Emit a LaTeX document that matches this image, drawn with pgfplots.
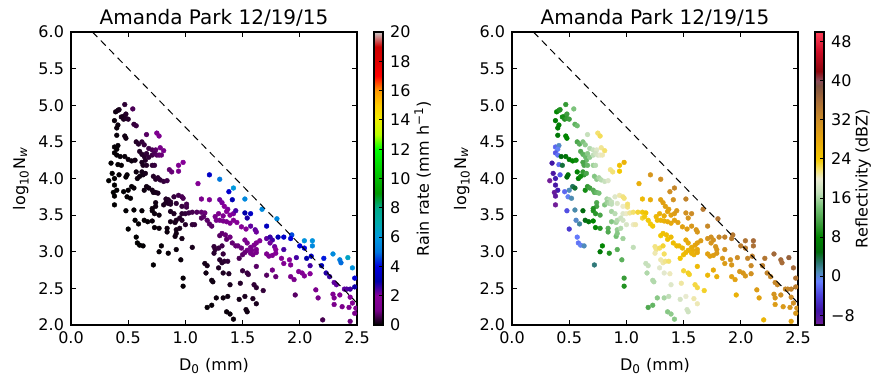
\documentclass[border=0pt]{standalone}
\usepackage{fontspec}
\setmainfont{DejaVu Sans}
\usepackage{pgfplots}
\usepackage{pgfplotstable}
\pgfplotsset{compat=1.18}

\pgfplotstableread{
x y R Z
0.47 5.01 0.38 10.5
0.54 4.95 0.63 14.4
0.39 4.91 0.13 8
0.41 4.93 0.17 9
0.42 4.94 0.19 9.5
0.46 4.85 0.24 10
0.48 4.88 0.31 11
0.38 4.79 0.09 7
0.44 4.84 0.19 9
0.46 4.81 0.22 9.5
0.48 4.82 0.27 10.5
0.50 4.81 0.32 11
0.41 4.73 0.10 7.5
0.40 4.69 0.09 7
0.55 4.74 0.43 12.9
0.57 4.72 0.48 13.9
0.40 4.59 0.07 6.5
0.47 4.58 0.14 8
0.48 4.55 0.14 8
0.66 4.60 0.72 17.5
0.75 4.62 1.4 21.8
0.77 4.58 1.4 22.3
0.57 4.50 0.29 11.7
0.59 4.47 0.32 12.5
0.62 4.50 0.43 14.4
0.64 4.46 0.45 15.1
0.38 4.43 0.04 -2.2
0.41 4.45 0.06 0.5
0.40 4.40 0.04 -0.8
0.68 4.41 0.54 16.5
0.71 4.39 0.62 17.7
0.74 4.39 0.76 19.1
0.78 4.42 1.05 21.1
0.81 4.38 1.1 21.9
0.38 4.35 0.03 -3.0
0.40 4.32 0.04 -1.6
0.43 4.30 0.05 5
0.47 4.30 0.07 6
0.50 4.26 0.09 7
0.53 4.24 0.11 8
0.56 4.25 0.15 8.6
0.60 4.37 0.27 12.1
0.62 4.33 0.29 12.7
0.64 4.30 0.31 13.5
0.65 4.25 0.30 13.5
0.66 4.34 0.40 14.9
0.68 4.29 0.41 15.3
0.71 4.32 0.50 17.0
0.73 4.34 0.63 18.2
0.75 4.32 0.69 18.8
0.77 4.32 0.78 19.7
0.79 4.32 0.87 20.5
0.35 4.21 0.02 -7.1
0.41 4.19 0.03 -2.1
0.44 4.18 0.04 4
0.62 4.22 0.22 11.6
0.63 4.18 0.22 11.8
0.66 4.18 0.28 13.3
0.71 4.18 0.38 15.6
0.73 4.18 0.44 16.6
0.98 4.22 1.9 26.5
0.94 4.18 1.4 24.8
0.36 4.07 0.01 -7.6
0.42 4.05 0.03 -2.8
0.49 4.05 0.05 6
0.48 4.02 0.04 5
0.57 4.09 0.11 7.6
0.62 4.09 0.17 10.3
0.63 4.05 0.16 10.5
0.65 4.07 0.20 11.7
0.72 4.03 0.29 14.6
0.74 3.99 0.30 15.1
0.76 4.01 0.35 16.2
0.78 3.98 0.38 16.7
0.81 3.96 0.43 17.7
0.84 3.97 0.52 19.0
0.86 4.12 0.81 21.3
0.88 4.09 0.85 21.7
0.94 4.10 1.2 24.0
0.33 3.97 0.01 -10
0.38 4.00 0.01 -6.5
0.38 3.91 0.01 -7.4
0.58 4.00 0.10 7.2
0.60 4.03 0.12 8.7
1.21 4.05 3.5 30.5
1.30 3.99 5.0 31.7
1.11 3.93 1.7 27.0
0.40 3.84 0.01 -6.4
0.37 3.81 0.01 -9.3
0.38 3.76 0.01 -8.9
0.46 3.82 0.02 -2.1
0.50 3.84 0.03 0.8
0.53 3.89 0.05 3.2
0.55 3.87 0.06 4.2
0.64 3.84 0.11 8.9
0.66 3.89 0.14 10.4
0.68 3.87 0.15 11.1
0.71 3.84 0.17 12.2
0.72 3.81 0.17 12.4
0.74 3.81 0.20 13.3
0.76 3.80 0.22 14.1
0.49 3.75 0.03 -0.7
0.52 3.73 0.03 1.0
0.83 3.72 0.28 16.1
0.85 3.71 0.30 16.8
0.90 3.75 0.44 19.1
0.94 3.77 0.55 20.7
0.97 3.75 0.62 21.5
0.98 3.73 0.62 21.6
1.14 3.72 1.2 25.6
1.21 3.71 1.6 27.1
1.38 3.82 3.7 31.6
1.42 3.87 6.0 32.8
1.41 3.71 3.2 31.1
1.52 3.72 5.5 33.1
0.74 3.67 0.14 11.9
0.74 3.62 0.13 11.4
0.38 3.64 0.01 -9.9
0.48 3.56 0.02 -3.3
0.55 3.57 0.03 1.2
0.62 3.56 0.05 5.0
0.71 3.59 0.10 9.7
0.71 3.56 0.09 9.4
0.73 3.52 0.10 10.0
0.77 3.50 0.12 11.5
0.81 3.64 0.20 14.5
0.83 3.67 0.25 15.6
0.85 3.66 0.27 16.3
0.87 3.68 0.32 17.3
0.87 3.65 0.30 17.0
0.92 3.66 0.39 18.9
0.97 3.62 0.46 20.2
1.01 3.61 0.54 21.4
1.01 3.65 0.59 21.8
0.87 3.55 0.23 16.0
0.90 3.52 0.26 16.8
0.97 3.52 0.36 19.2
1.00 3.52 0.42 20.2
1.03 3.53 0.49 21.1
1.06 3.54 0.58 21.9
1.10 3.54 0.68 22.9
1.14 3.54 0.80 23.8
1.17 3.53 0.89 24.4
1.30 3.71 2.2 28.9
1.32 3.67 2.1 28.9
1.34 3.62 2.0 28.8
1.37 3.58 2.1 29.0
1.29 3.52 1.4 26.8
1.33 3.49 1.5 27.3
1.36 3.55 1.9 28.5
1.39 3.50 1.9 28.6
1.42 3.52 2.1 29.3
1.44 3.56 2.5 30.1
1.52 3.53 3.0 31.2
1.57 3.52 3.5 32.0
1.67 3.58 5.5 34.2
1.54 3.46 2.8 30.8
0.56 3.43 0.02 0.4
0.59 3.38 0.03 1.6
0.64 3.43 0.04 4.8
0.67 3.41 0.05 6.1
0.71 3.42 0.07 8.0
0.73 3.33 0.06 8.1
0.77 3.32 0.08 9.7
0.84 3.32 0.12 12.5
0.87 3.41 0.17 14.6
0.91 3.40 0.20 15.9
0.92 3.43 0.23 16.6
0.95 3.46 0.29 17.9
0.97 3.43 0.30 18.3
1.00 3.37 0.30 18.7
1.06 3.37 0.39 20.2
1.08 3.37 0.43 20.7
1.14 3.46 0.66 23.0
1.16 3.48 0.76 23.7
1.19 3.43 0.76 23.8
1.21 3.38 0.74 23.8
1.23 3.35 0.74 23.9
1.26 3.48 1.1 25.8
1.27 3.43 1.05 25.5
1.30 3.43 1.15 26.1
1.33 3.42 1.26 26.6
1.36 3.41 1.35 27.1
1.39 3.39 1.45 27.5
1.42 3.43 1.7 28.4
1.45 3.40 1.8 28.7
1.49 3.34 1.8 28.8
1.53 3.31 1.9 29.2
1.57 3.35 2.3 30.3
1.61 3.30 2.3 30.4
1.62 3.27 2.2 30.3
1.80 3.45 5.5 34.8
1.71 3.35 3.4 32.5
0.50 3.31 0.01 -4.5
0.84 3.27 0.10 12.0
0.92 3.30 0.17 15.3
0.95 3.32 0.21 16.5
0.57 3.20 0.01 -1.3
0.58 3.12 0.01 -1.6
0.60 3.09 0.01 -0.7
0.63 3.08 0.02 0.8
0.91 3.21 0.13 14.0
0.92 3.25 0.15 14.8
0.97 3.18 0.17 15.8
1.30 3.22 0.71 24.0
1.32 3.25 0.81 24.7
1.35 3.23 0.87 25.1
1.36 3.17 0.79 24.7
1.39 3.20 0.93 25.6
1.41 3.12 0.83 25.2
1.44 3.08 0.83 25.3
1.46 3.08 0.89 25.7
1.52 3.16 1.3 27.5
1.54 3.12 1.26 27.4
1.57 3.06 1.2 27.4
1.60 3.09 1.4 28.1
1.62 3.12 1.5 28.8
1.65 3.15 1.8 29.5
1.71 3.18 2.3 30.8
1.74 3.20 2.6 31.4
1.76 3.16 2.5 31.3
1.81 3.20 3.2 32.5
1.86 3.20 3.6 33.2
1.93 3.23 4.6 34.4
1.92 3.18 4.0 33.8
1.74 3.12 2.2 30.6
1.78 3.07 2.2 30.7
1.79 3.03 2.0 30.5
1.06 3.06 0.19 17.1
1.25 3.07 0.42 21.5
1.26 3.03 0.40 21.3
1.29 3.05 0.47 22.1
1.32 3.08 0.55 23.0
0.79 3.08 0.05 8.1
1.49 3.05 0.91 25.9
1.54 3.02 1.0 26.4
1.58 3.02 1.1 27.1
1.62 3.03 1.3 27.9
0.77 3.00 0.04 6.5
0.85 2.98 0.06 9.5
0.92 3.03 0.09 12.6
0.96 2.89 0.08 12.6
1.25 2.98 0.34 20.6
1.33 2.97 0.45 22.1
1.30 2.89 0.33 20.7
1.32 2.85 0.32 20.7
1.34 2.87 0.36 21.3
1.37 2.87 0.41 21.9
1.47 2.91 0.62 24.1
1.50 2.96 0.76 25.2
1.52 2.99 0.87 25.8
1.57 2.98 1.0 26.6
1.59 2.96 1.0 26.7
1.62 2.99 1.15 27.5
1.71 2.97 1.4 28.7
1.73 2.94 1.4 28.7
1.76 2.95 1.5 29.2
1.79 2.98 1.8 30.0
1.86 3.03 2.5 31.5
1.84 2.91 1.7 30.0
1.86 2.84 1.6 29.6
1.91 2.89 2.0 30.8
1.92 2.82 1.7 30.2
1.97 2.92 2.5 31.9
2.00 3.08 3.9 33.9
2.04 3.15 5.8 35.1
2.11 3.15 5.8 36.0
2.11 3.08 5.5 35.3
2.04 3.05 4.0 34.1
2.06 2.91 3.0 32.9
2.10 2.94 3.5 33.7
2.09 2.81 2.5 32.3
2.21 2.91 4.2 34.7
2.29 2.97 5.6 36.3
2.35 2.89 5.2 36.2
2.36 2.85 4.9 35.9
2.42 2.92 6.5 37.2
0.72 2.82 0.02 2.5
1.17 2.84 0.18 17.5
1.19 2.81 0.18 17.6
1.29 2.78 0.25 19.4
1.33 2.71 0.25 19.5
1.38 2.70 0.28 20.4
1.50 2.74 0.46 23.0
1.54 2.71 0.49 23.3
1.55 2.69 0.48 23.3
1.62 2.80 0.74 25.6
1.71 2.68 0.71 25.8
1.76 2.75 0.98 27.2
1.79 2.66 0.87 26.8
1.92 2.66 1.2 28.6
1.95 2.62 1.17 28.6
1.99 2.73 1.7 30.2
2.02 2.71 1.7 30.4
2.04 2.67 1.7 30.3
2.09 2.70 1.95 31.2
2.19 2.81 3.2 33.5
2.23 2.71 2.75 33.0
2.26 2.66 2.6 32.8
2.30 2.58 2.3 32.5
2.32 2.55 2.3 32.4
2.46 2.78 5.8 36.2
1.18 2.71 0.14 16.4
0.98 2.64 0.05 10.7
0.98 2.53 0.04 9.6
1.23 2.61 0.13 16.5
1.24 2.59 0.13 16.5
1.39 2.55 0.21 19.1
1.48 2.57 0.30 20.9
1.60 2.55 0.40 22.7
1.62 2.51 0.37 22.7
1.68 2.47 0.42 23.2
2.14 2.48 1.3 29.6
2.29 2.42 1.6 30.8
2.30 2.37 1.45 30.4
2.39 2.49 2.3 32.6
2.41 2.49 2.4 32.8
2.44 2.49 2.5 33.1
2.48 2.64 3.8 35.0
2.48 2.52 2.9 33.8
2.35 2.41 1.7 31.4
2.44 2.38 1.95 32.0
1.19 2.24 0.05 11.9
1.23 2.27 0.06 13.1
1.27 2.37 0.09 14.9
1.33 2.37 0.11 16.1
1.37 2.39 0.13 17.1
1.36 2.18 0.08 14.8
1.39 2.15 0.08 15.1
1.42 2.08 0.08 14.9
1.47 2.35 0.17 18.5
1.52 2.39 0.22 19.8
1.53 2.21 0.15 18.2
1.54 2.18 0.14 18.0
1.59 2.36 0.25 20.7
1.62 2.29 0.22 20.5
1.96 2.41 0.74 26.6
2.16 2.37 1.07 28.7
2.30 2.28 1.17 29.5
2.37 2.25 1.26 30.0
2.43 2.24 1.4 30.5
2.46 2.30 1.7 31.4
2.48 2.16 1.26 30.2
2.49 2.23 1.5 31.0
2.20 2.07 0.59 26.2
2.44 2.05 0.91 28.7
}\dsd

\pgfplotsset{
  /pgf/number format/assume math mode=true,
  colormap={nipy}{rgb=(0,0,0) rgb=(0.4667,0,0.5333) rgb=(0.5333,0,0.6) rgb=(0,0,0.6667) rgb=(0,0,0.8667) rgb=(0,0.4667,0.8667) rgb=(0,0.6,0.8667) rgb=(0,0.6667,0.6667) rgb=(0,0.6667,0.5333) rgb=(0,0.6,0) rgb=(0,0.7333,0) rgb=(0,0.8667,0) rgb=(0,1,0) rgb=(0.7333,1,0) rgb=(0.9333,0.9333,0) rgb=(1,0.8,0) rgb=(1,0.6,0) rgb=(1,0,0) rgb=(0.8667,0,0) rgb=(0.8,0,0) rgb=(0.8,0.8,0.8)},
  colormap={refl}{rgb(0pt)=(0.45,0.12,0.60) rgb(3pt)=(0.25,0.08,0.65) rgb(6pt)=(0.30,0.25,0.85) rgb(9pt)=(0.40,0.50,1.00) rgb(11pt)=(0.30,0.55,0.70) rgb(13pt)=(0.15,0.45,0.40) rgb(15pt)=(0.00,0.42,0.05) rgb(18pt)=(0.00,0.52,0.00) rgb(21pt)=(0.25,0.62,0.25) rgb(24pt)=(0.45,0.75,0.45) rgb(27pt)=(0.75,0.87,0.72) rgb(30pt)=(0.92,0.92,0.82) rgb(32pt)=(0.96,0.88,0.40) rgb(34pt)=(0.95,0.78,0.00) rgb(38pt)=(0.90,0.65,0.05) rgb(42pt)=(0.80,0.55,0.15) rgb(46pt)=(0.65,0.42,0.22) rgb(49pt)=(0.50,0.32,0.25) rgb(50pt)=(0.55,0.30,0.35) rgb(52pt)=(0.55,0.02,0.05) rgb(56pt)=(0.80,0.05,0.15) rgb(60pt)=(1.00,0.25,0.35)},
  dsdaxis/.style={
    scale only axis, width=143pt, height=146.5pt,
    anchor=south west,
    xmin=0, xmax=2.5, ymin=2, ymax=6,
    xtick={0,0.5,...,2.5}, ytick={2,2.5,...,6},
    tick align=inside, major tick length=2.5pt,
    axis line style={line width=0.6pt},
    every tick/.style={black, line width=0.5pt},
    tick label style={font=\fontsize{8}{9}\selectfont},
    x tick label style={/pgf/number format/fixed, /pgf/number format/fixed zerofill, /pgf/number format/precision=1},
    y tick label style={/pgf/number format/fixed, /pgf/number format/fixed zerofill, /pgf/number format/precision=1},
    title style={font=\fontsize{10}{12}\selectfont, yshift=-6.5pt},
    label style={font=\fontsize{8}{10}\selectfont},
    xlabel={D\textsubscript{0} (mm)},
    ylabel={log\textsubscript{10}N\textsubscript{\textit{w}}},
    ylabel style={at={(axis description cs:-0.123,0.5)}, anchor=south},
    title={Amanda Park 12/19/15},
    clip marker paths=true,
    colorbar,
  },
  cbstyle/.style={
    at={(parent axis.north east)}, anchor=north west, xshift=0pt,
    width=4.5pt,
    yticklabel pos=right, ytick pos=right,
    tick align=inside, major tick length=2pt,
    axis line style={line width=0.6pt},
    every tick/.style={black, line width=0.5pt},
    tick label style={font=\fontsize{8}{9}\selectfont},
    label style={font=\fontsize{8}{10}\selectfont},
    ylabel style={at={(axis description cs:3.7,0.5)}, anchor=north},
  },
  dsdscatter/.style={scatter, only marks, mark=*, mark size=1.2pt, scatter src=explicit,
    scatter/use mapped color={draw=mapped color, fill=mapped color}, mark options={line width=0.2pt}},
}

\begin{document}
\begin{tikzpicture}
\useasboundingbox (0,0) rectangle (443pt,193pt);
\begin{axis}[dsdaxis, at={(35.5pt,30.5pt)},
  colormap name=nipy, point meta min=0, point meta max=20,
  colorbar style={cbstyle, ytick={0,2,...,20}, ylabel={Rain rate (mm h\textsuperscript{−1})}}]
\addplot[dsdscatter] table[x=x, y=y, meta=R] {\dsd};
\addplot[black, line width=0.5pt, dash pattern=on 3.5pt off 2.5pt, no marks] coordinates {(0.1875,6) (2.5,2.3)};
\end{axis}
\begin{axis}[dsdaxis, at={(256pt,30.5pt)},
  colormap name=refl, point meta min=-10, point meta max=50,
  colorbar style={cbstyle, ytick={-8,0,8,16,24,32,40,48}, yticklabels={−8,0,8,16,24,32,40,48}, ylabel={Reflectivity (dBZ)}}]
\addplot[dsdscatter] table[x=x, y=y, meta=Z] {\dsd};
\addplot[black, line width=0.5pt, dash pattern=on 3.5pt off 2.5pt, no marks] coordinates {(0.1875,6) (2.5,2.3)};
\end{axis}
\end{tikzpicture}
\end{document}
